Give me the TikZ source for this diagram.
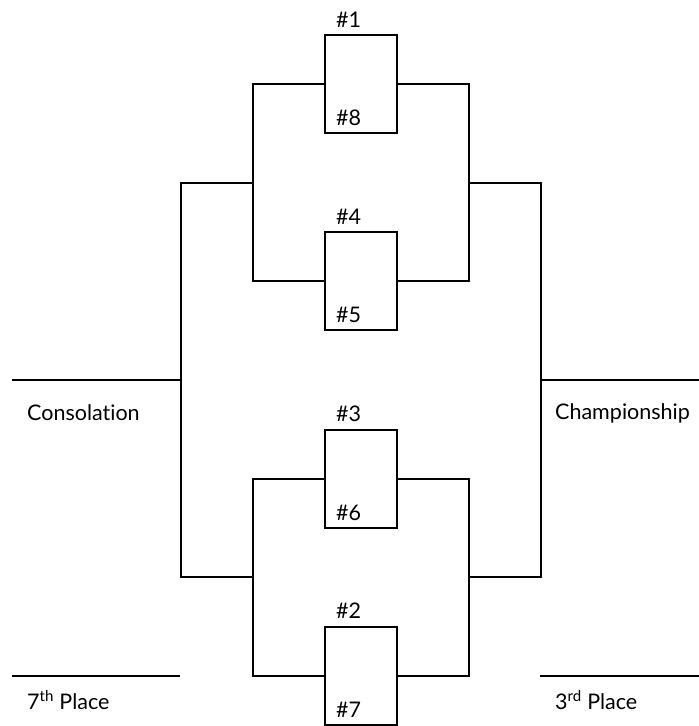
\documentclass[tikz,border=0pt]{standalone}
\usepackage{fontspec}
\setmainfont[Ligatures=NoCommon]{Lato}
\usetikzlibrary{positioning}
\tikzset{
  game/.style={draw,line width=2pt,shape=rectangle,minimum width=72pt,minimum height=98pt,inner sep=0pt},
  seed/.style={anchor=west,inner sep=0pt,font=\fontsize{21.5}{24}\selectfont},
  place/.style={anchor=west,inner sep=0pt,font=\fontsize{21.5}{24}\selectfont},
  wire/.style={line width=2pt}
}
\begin{document}
\begin{tikzpicture}[x=1pt,y=-1pt]
\useasboundingbox (0,0) rectangle (699,726);
% first round games
\node[game](G1) at (361,84){};
\node[game](G2) at (361,281){};
\node[game](G3) at (361,478.5){};
\node[game](G4) at (361,676){};
\node[seed](S1) at (336,20){\#1};
\node[seed](S8) at (336,118){\#8};
\node[seed](S4) at (336,217){\#4};
\node[seed](S5) at (336,315){\#5};
\node[seed](S3) at (336,414){\#3};
\node[seed](S6) at (336,513){\#6};
\node[seed](S2) at (336,611){\#2};
\node[seed](S7) at (336,710){\#7};
% bracket corners
\coordinate(LA) at (253,183);
\coordinate(LB) at (253,577);
\coordinate(RA) at (469,183);
\coordinate(RB) at (469,577);
\coordinate(LC) at (181,380);
\coordinate(RC) at (541,380);
\coordinate(LE) at (12,380);
\coordinate(RE) at (699,380);
\coordinate(SL) at (12,676);
\coordinate(SR) at (180,676);
\coordinate(TL) at (540,676);
\coordinate(TR) at (699,676);
% losers side
\draw[wire] (G1.west) -| (LA) |- (G2.west);
\draw[wire] (G3.west) -| (LB) |- (G4.west);
\draw[wire] (LA) -| (LC) |- (LB);
\draw[wire] (LC) -- (LE);
\draw[wire] (SL) -- (SR);
% winners side
\draw[wire] (G1.east) -| (RA) |- (G2.east);
\draw[wire] (G3.east) -| (RB) |- (G4.east);
\draw[wire] (RA) -| (RC) |- (RB);
\draw[wire] (RC) -- (RE);
\draw[wire] (TL) -- (TR);
\node[place](CO) at (27,413){Consolation};
\node[place](CH) at (555,413){Championship};
\node[place](P7) at (27,700){7\textsuperscript{th} Place};
\node[place](P3) at (555,700){3\textsuperscript{rd} Place};
\end{tikzpicture}
\end{document}
